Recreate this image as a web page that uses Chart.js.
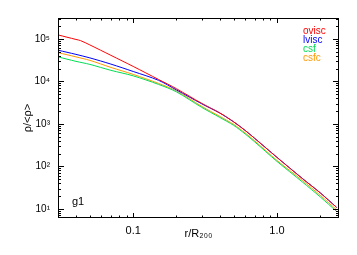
<!DOCTYPE html>
<html>
<head>
<meta charset="utf-8">
<script src="https://cdn.jsdelivr.net/npm/chart.js@4/dist/chart.umd.min.js"></script>
<style>
html,body{margin:0;padding:0;background:#fff;}
#wrap{width:357px;height:255px;}
</style>
</head>
<body>
<div id="wrap"><canvas id="c" width="357" height="255"></canvas></div>
<script>
// ---- data ----
const radius    = [0.03, 0.04, 0.05, 0.07, 0.1, 0.15, 0.2, 0.3, 0.4, 0.5, 0.6, 0.7, 1.0, 1.5, 2.0, 2.6];
const redRadius = [0.03, 0.04, 0.043, 0.05, 0.07, 0.1, 0.15, 0.2, 0.3, 0.4, 0.5, 0.6, 0.7, 1.0, 1.5, 2.0, 2.6];
const ovisc = [124000, 96900, 91200, 72000, 41000, 22500, 11100, 6700, 3030, 1815, 1114, 703, 456, 163, 52, 23.8, 10.8];
const lvisc = [54200, 43200, 35700, 25500, 17100, 10600, 6300, 2960, 1800, 1114, 703, 456, 163, 52, 23.8, 10.8];
const csf   = [37700, 29600, 25100, 18200, 13500, 8490, 5660, 2440, 1420, 922, 582, 377, 131, 43.1, 19.1, 8.7];
const csfc  = [47600, 37700, 31200, 21300, 14600, 8970, 5970, 2580, 1500, 973, 614, 398, 138, 46.9, 20.8, 9.5];
const seriesNames = ['ovisc', 'lvisc', 'csf', 'csfc'];
const seriesColors = ['#ff0000', '#0000ff', '#00dd55', '#ff9900'];
const xTickValues = [0.1, 1.0];
const xTickLabels = ['0.1', '1.0'];
const yTickValues = [10, 100, 1000, 10000, 100000];
const yTickLabels = ['10\u00b9', '10\u00b2', '10\u00b3', '10\u2074', '10\u2075'];
const xMinorTicks = [0.04,0.05,0.06,0.07,0.08,0.09,0.2,0.3,0.4,0.5,0.6,0.7,0.8,0.9,2.0];
const yMinorTicks = [7,8,9,20,30,40,50,60,70,80,90,200,300,400,500,600,700,800,900,
  2000,3000,4000,5000,6000,7000,8000,9000,20000,30000,40000,50000,60000,70000,80000,90000,200000,300000];
const panelLabel = 'g1';
const xTitle = 'r/R\u2082\u2080\u2080';
const yTitle = '\u03c1/<\u03c1>';

function pts(xs, ys){ return xs.map((x,i)=>({x:x, y:ys[i]})); }

const idlAxes = {
  id: 'idlAxes',
  afterDatasetsDraw(chart){
    const {ctx, chartArea:a, scales:{x, y}} = chart;
    ctx.save();
    ctx.strokeStyle = '#000';
    ctx.lineWidth = 1;
    ctx.strokeRect(a.left+0.5, a.top+0.5, a.right-a.left-1, a.bottom-a.top-1);
    ctx.beginPath();
    const xt = (v, len) => {
      const p = Math.round(x.getPixelForValue(v)) + 0.5;
      ctx.moveTo(p, a.bottom); ctx.lineTo(p, a.bottom - len);
      ctx.moveTo(p, a.top); ctx.lineTo(p, a.top + len);
    };
    const yt = (v, len) => {
      const p = Math.round(y.getPixelForValue(v)) + 0.5;
      ctx.moveTo(a.left, p); ctx.lineTo(a.left + len, p);
      ctx.moveTo(a.right, p); ctx.lineTo(a.right - len, p);
    };
    xTickValues.forEach(v => xt(v, 5));
    xMinorTicks.forEach(v => xt(v, 2.5));
    yTickValues.forEach(v => yt(v, 6));
    yMinorTicks.forEach(v => yt(v, 3));
    ctx.stroke();
    // legend
    ctx.font = '10px "Liberation Sans", Arial, sans-serif';
    ctx.textBaseline = 'middle';
    ctx.textAlign = 'left';
    seriesNames.forEach((n, i) => {
      ctx.fillStyle = seriesColors[i];
      ctx.fillText(n, 303, 31 + i * 9);
    });
    ctx.fillStyle = '#000';
    ctx.font = '11px "Liberation Sans", Arial, sans-serif';
    ctx.fillText(panelLabel, 72, 202);
    ctx.restore();
  }
};

new Chart(document.getElementById('c'), {
  type: 'line',
  data: {
    datasets: [
      {label: seriesNames[0], data: pts(redRadius, ovisc), borderColor: seriesColors[0]},
      {label: seriesNames[1], data: pts(radius, lvisc), borderColor: seriesColors[1]},
      {label: seriesNames[2], data: pts(radius, csf), borderColor: seriesColors[2]},
      {label: seriesNames[3], data: pts(radius, csfc), borderColor: seriesColors[3]}
    ].map(d => Object.assign(d, {borderWidth: 1, pointRadius: 0, fill: false, tension: 0.3}))
  },
  options: {
    responsive: false,
    animation: false,
    devicePixelRatio: 1,
    layout: {padding: {top: 18, right: 18, left: 0, bottom: 0}},
    plugins: {legend: {display: false}, tooltip: {enabled: false}},
    scales: {
      x: {
        type: 'logarithmic', min: 0.03, max: 2.7,
        grid: {display: false, drawTicks: false},
        border: {display: false},
        afterBuildTicks: s => { s.ticks = xTickValues.map(v => ({value: v})); },
        afterFit: s => { s.height = 37; },
        ticks: {
          color: '#000', padding: 6, maxRotation: 0, autoSkip: false,
          font: {family: '"Liberation Sans", Arial, sans-serif', size: 11},
          callback: (v, i) => xTickLabels[i]
        },
        title: {display: true, text: xTitle, color: '#000', padding: {top: 0, bottom: 14},
          font: {family: '"Liberation Sans", Arial, sans-serif', size: 11}}
      },
      y: {
        type: 'logarithmic', min: 6.1, max: 310000,
        grid: {display: false, drawTicks: false},
        border: {display: false},
        afterBuildTicks: s => { s.ticks = yTickValues.map(v => ({value: v})); },
        afterFit: s => { s.width = 58; },
        ticks: {
          color: '#000', padding: 8, autoSkip: false,
          font: {family: '"Liberation Sans", Arial, sans-serif', size: 10},
          callback: (v, i) => yTickLabels[i]
        },
        title: {display: true, text: yTitle, color: '#000', padding: {top: 21, bottom: 0},
          font: {family: '"Liberation Sans", Arial, sans-serif', size: 11}}
      }
    }
  },
  plugins: [idlAxes]
});
</script>
</body>
</html>
